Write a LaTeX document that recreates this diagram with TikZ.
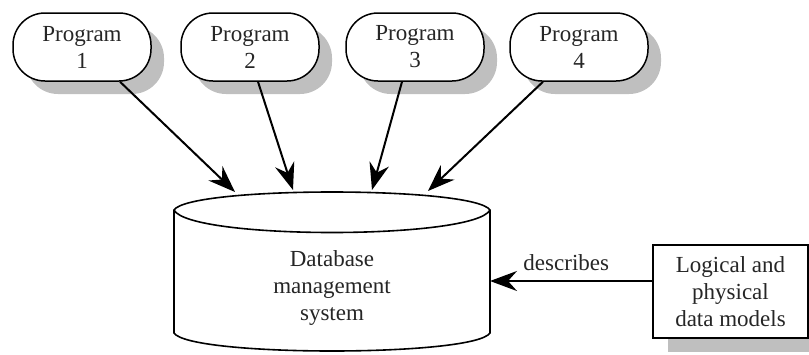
\documentclass[tikz,border=0pt]{standalone}
\usepackage{fontspec}
\setmainfont{Liberation Serif}
\usetikzlibrary{arrows.meta,shadows,calc}
\begin{document}
\begin{tikzpicture}[x=1pt,y=-1pt,
  txt/.style={font=\fontsize{23}{27}\selectfont, text=black!85, align=center},
  prog/.style={txt, draw, line width=1.5pt, fill=white, rounded corners=32pt,
    minimum width=138pt, minimum height=68pt, inner sep=0pt,
    drop shadow={shadow xshift=13pt, shadow yshift=-13pt, fill=black!25, opacity=1}},
  modelbox/.style={txt, draw, line width=1.5pt, fill=white,
    minimum width=155pt, minimum height=93pt, inner sep=0pt,
    drop shadow={shadow xshift=15pt, shadow yshift=-14pt, fill=black!25, opacity=1}},
  conn/.style={line width=2pt, -{Stealth[length=27pt,width=20pt,inset=9pt]}},
  cyl/.style={line width=1.6pt}
]
\useasboundingbox (0,0) rectangle (809,354);

% programs
\node[prog] (p1) at (82,47) {Program\\1};
\node[prog] (p2) at (250,47) {Program\\2};
\node[prog] (p3) at (415,47) {Program\\3};
\node[prog] (p4) at (579,47) {Program\\4};

% cylinder
\draw[cyl, fill=white] (174,210) .. controls (190,186) and (474,186) .. (490,210)
  -- (490,333) .. controls (474,357) and (190,357) .. (174,333) -- cycle;
\draw[cyl] (174,210) .. controls (190,240) and (474,240) .. (490,210);
\node[txt] (db) at (332,288) {Database\\management\\system};

\coordinate (c1) at (235,192);
\coordinate (c2) at (293,190);
\coordinate (c3) at (372,190);
\coordinate (c4) at (428,191);
\coordinate (dbR) at (490,281);

\draw[conn] ([xshift=38pt]p1.south) -- (c1);
\draw[conn] ([xshift=8pt]p2.south) -- (c2);
\draw[conn] ([xshift=-13pt]p3.south) -- (c3);
\draw[conn] ([xshift=-36pt]p4.south) -- (c4);

% data models
\node[modelbox] (lg) at (730.5,291.5) {Logical and\\physical\\data models};
\draw[conn] (lg.west |- dbR) -- (dbR) node[pos=0.53, txt, anchor=south, yshift=6pt] (lbl) {describes};
\end{tikzpicture}
\end{document}
